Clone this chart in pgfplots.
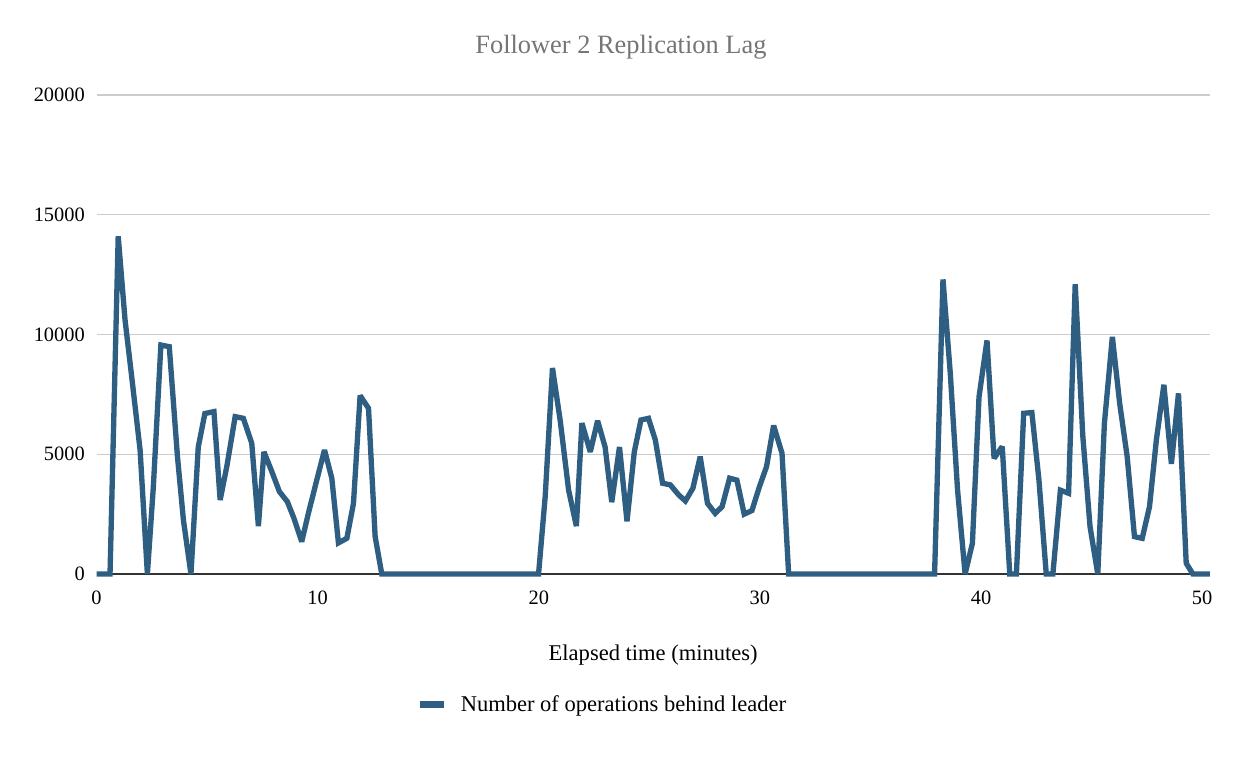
\documentclass[border=0pt]{standalone}
\usepackage{pgfplots}
\pgfplotsset{compat=1.18}
\usepackage{fontspec}
\setmainfont{Liberation Serif}
\definecolor{lagblue}{HTML}{2E5E82}
\definecolor{titlegray}{HTML}{757575}
\definecolor{gridgray}{HTML}{CCCCCC}
\definecolor{axisdark}{HTML}{333333}
\begin{document}
\begin{tikzpicture}
\useasboundingbox (-72.4pt,-139.5pt) rectangle (860.6pt,430.5pt);
\begin{axis}[
    scale only axis,
    width=835pt, height=359.25pt,
    xmin=0, xmax=50.35,
    ymin=0, ymax=20000,
    xtick={0,10,20,30,40,50},
    ytick={0,5000,10000,15000,20000},
    scaled y ticks=false,
    /pgf/number format/assume math mode=true,
    /pgf/number format/set thousands separator={},
    major tick length=0pt,
    axis x line*=bottom,
    axis y line*=left,
    y axis line style={draw=none},
    x axis line style={draw=axisdark, line width=1.1pt},
    ymajorgrids,
    grid style={draw=gridgray, line width=0.8pt},
    clip=false,
    tick label style={font=\fontsize{15.3}{16}\selectfont},
    xticklabel style={anchor=base, inner sep=0pt, yshift=-22.5pt},
    yticklabel style={anchor=east, inner sep=0pt, xshift=-8.6pt},
    title={Follower 2 Replication Lag},
    title style={at={(axis description cs:0.471,1)}, anchor=base, yshift=25pt,
        inner sep=0pt, font=\fontsize{19.8}{21}\selectfont, text=titlegray},
    xlabel={Elapsed time (minutes)},
    xlabel style={at={(axis description cs:0.5,0)}, anchor=base, yshift=-65pt,
        inner sep=0pt, font=\fontsize{16.9}{18}\selectfont},
    legend style={at={(axis description cs:0.2875,0)}, anchor=west, yshift=-98pt,
        draw=none, fill=none, inner sep=0pt, font=\fontsize{16.9}{18}\selectfont,
        nodes={inner sep=0pt}},
    legend cell align=left,
    legend image code/.code={
        \draw[line width=5.2pt] (0pt,0pt) -- (17.5pt,0pt);
        \path (28.3pt,0pt);
    },
]
\addplot[color=lagblue, line width=4pt, miter limit=3] coordinates {
    (0,0) (0.61,0) (0.98,14100) (1.29,10600) (1.59,8240) (1.97,5180)
    (2.30,0) (2.57,3650) (2.91,9560) (3.29,9490) (3.66,4900) (3.93,2250)
    (4.27,0) (4.60,5300) (4.90,6700) (5.31,6780) (5.59,3090) (5.89,4480)
    (6.27,6570) (6.64,6500) (7.02,5460) (7.32,2000) (7.57,5100) (7.93,4270)
    (8.27,3440) (8.63,3020) (8.93,2320) (9.28,1350) (9.58,2530) (9.96,3920)
    (10.31,5180) (10.64,4000) (10.94,1300) (11.32,1490) (11.62,2950) (11.92,7450)
    (12.30,6920) (12.60,1560) (12.90,0)
    (19.99,0) (20.29,3230) (20.62,8600) (20.97,6400) (21.35,3500) (21.70,2000)
    (21.95,6300) (22.33,5100) (22.66,6400) (23.00,5300) (23.30,3000) (23.65,5300)
    (23.99,2200) (24.32,5100) (24.62,6430) (24.96,6500) (25.27,5600) (25.60,3790)
    (25.95,3720) (26.33,3300) (26.63,3050) (26.97,3580) (27.30,4900) (27.63,2950)
    (27.98,2530) (28.29,2810) (28.63,4000) (28.96,3920) (29.29,2500) (29.64,2650)
    (29.98,3650) (30.30,4480) (30.62,6200) (31.00,5040) (31.30,0)
    (37.90,0) (38.28,12300) (38.61,8380) (38.94,3500) (39.28,0) (39.61,1280)
    (39.91,7400) (40.27,9750) (40.59,4830) (40.96,5320) (41.30,0) (41.60,0)
    (41.93,6710) (42.30,6740) (42.62,3920) (42.95,0) (43.25,0) (43.59,3500)
    (43.96,3370) (44.26,12100) (44.60,5800) (44.93,1980) (45.28,0) (45.58,6290)
    (45.94,9900) (46.27,7130) (46.61,4900) (46.94,1560) (47.29,1490) (47.62,2810)
    (47.93,5600) (48.27,7900) (48.61,4600) (48.93,7540) (49.28,450) (49.58,0)
    (50.35,0)
};
\addlegendentry{Number of operations behind leader}
\end{axis}
\end{tikzpicture}
\end{document}
